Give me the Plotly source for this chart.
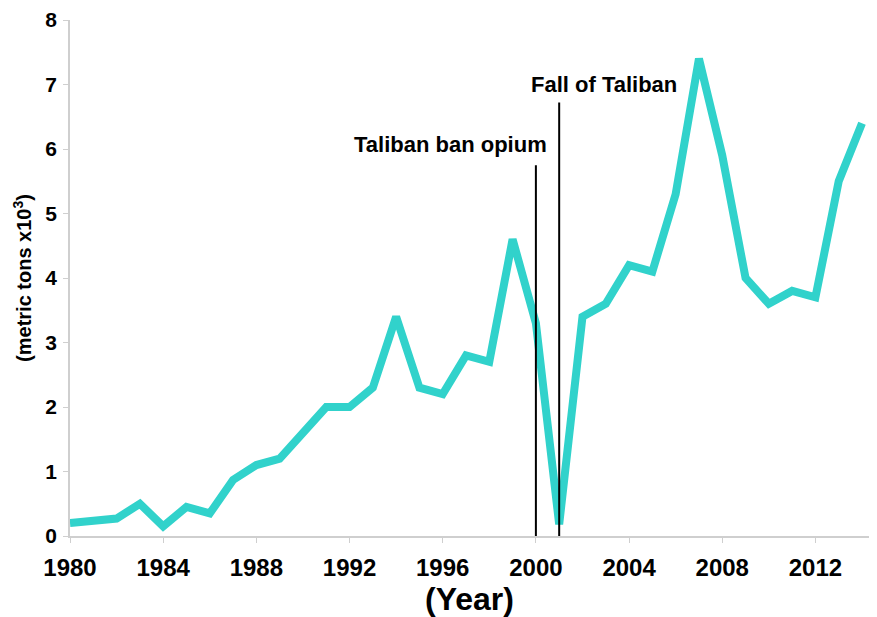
import plotly.graph_objects as go

years = list(range(1980, 2015))
production = [0.2, 0.22, 0.27, 0.5, 0.15, 0.45, 0.35, 0.87, 1.1, 1.2,
              1.6, 2.0, 2.0, 2.3, 3.4, 2.3, 2.2, 2.8, 2.7, 4.6,
              3.3, 0.18, 3.4, 3.6, 4.2, 4.1, 5.3, 7.4, 5.9, 4.0,
              3.6, 3.8, 3.7, 5.5, 6.4]
x_ticks = [1980, 1984, 1988, 1992, 1996, 2000, 2004, 2008, 2012]
y_ticks = [0, 1, 2, 3, 4, 5, 6, 7, 8]
event_years = [2000, 2001]
event_heights = [5.75, 6.72]
event_labels = ["Taliban ban opium", "Fall of Taliban"]

FONT = "Liberation Sans, Arial, sans-serif"

fig = go.Figure()
fig.add_trace(go.Scatter(x=years, y=production, mode="lines",
                         line=dict(color="#31D2CB", width=8),
                         showlegend=False, hoverinfo="x+y"))

for ex, eh in zip(event_years, event_heights):
    fig.add_shape(type="line", x0=ex, x1=ex, y0=0, y1=eh, xref="x", yref="y",
                  line=dict(color="black", width=2))

fig.add_annotation(x=2000.55, y=6.07, text=event_labels[0], showarrow=False,
                   xanchor="right", yanchor="middle",
                   font=dict(family=FONT, size=22, color="black", weight="bold"))
fig.add_annotation(x=2002.93, y=7.0, text=event_labels[1], showarrow=False,
                   xanchor="center", yanchor="middle",
                   font=dict(family=FONT, size=22, color="black", weight="bold"))

fig.update_layout(
    width=869, height=609,
    margin=dict(l=62, r=8, t=12, b=81),
    plot_bgcolor="white", paper_bgcolor="white",
    font=dict(family=FONT, color="black"),
)
fig.update_xaxes(range=[1980, 2014.3], tickvals=x_ticks,
                 ticktext=[str(t) for t in x_ticks],
                 automargin=False, ticklabeloverflow="allow",
                 showgrid=False, zeroline=False, showline=True,
                 linecolor="#cfcfcf", linewidth=1.5,
                 ticks="outside", ticklen=5, tickcolor="#cfcfcf",
                 ticklabelstandoff=4,
                 tickfont=dict(family=FONT, size=24, weight="bold"),
                 title=dict(text="(Year)", standoff=2,
                            font=dict(family=FONT, size=32, weight="bold")))
fig.update_yaxes(range=[0, 8], tickvals=y_ticks,
                 automargin=False, ticklabeloverflow="allow",
                 showgrid=False, zeroline=False, showline=True,
                 linecolor="#cfcfcf", linewidth=1.5,
                 ticks="outside", ticklen=5, tickcolor="#cfcfcf",
                 ticklabelstandoff=2,
                 tickfont=dict(family=FONT, size=21, weight="bold"),
                 title=dict(text="(metric tons x10<sup>3</sup>)", standoff=8,
                            font=dict(family=FONT, size=20, weight="bold")))

fig.write_html("out.html")
